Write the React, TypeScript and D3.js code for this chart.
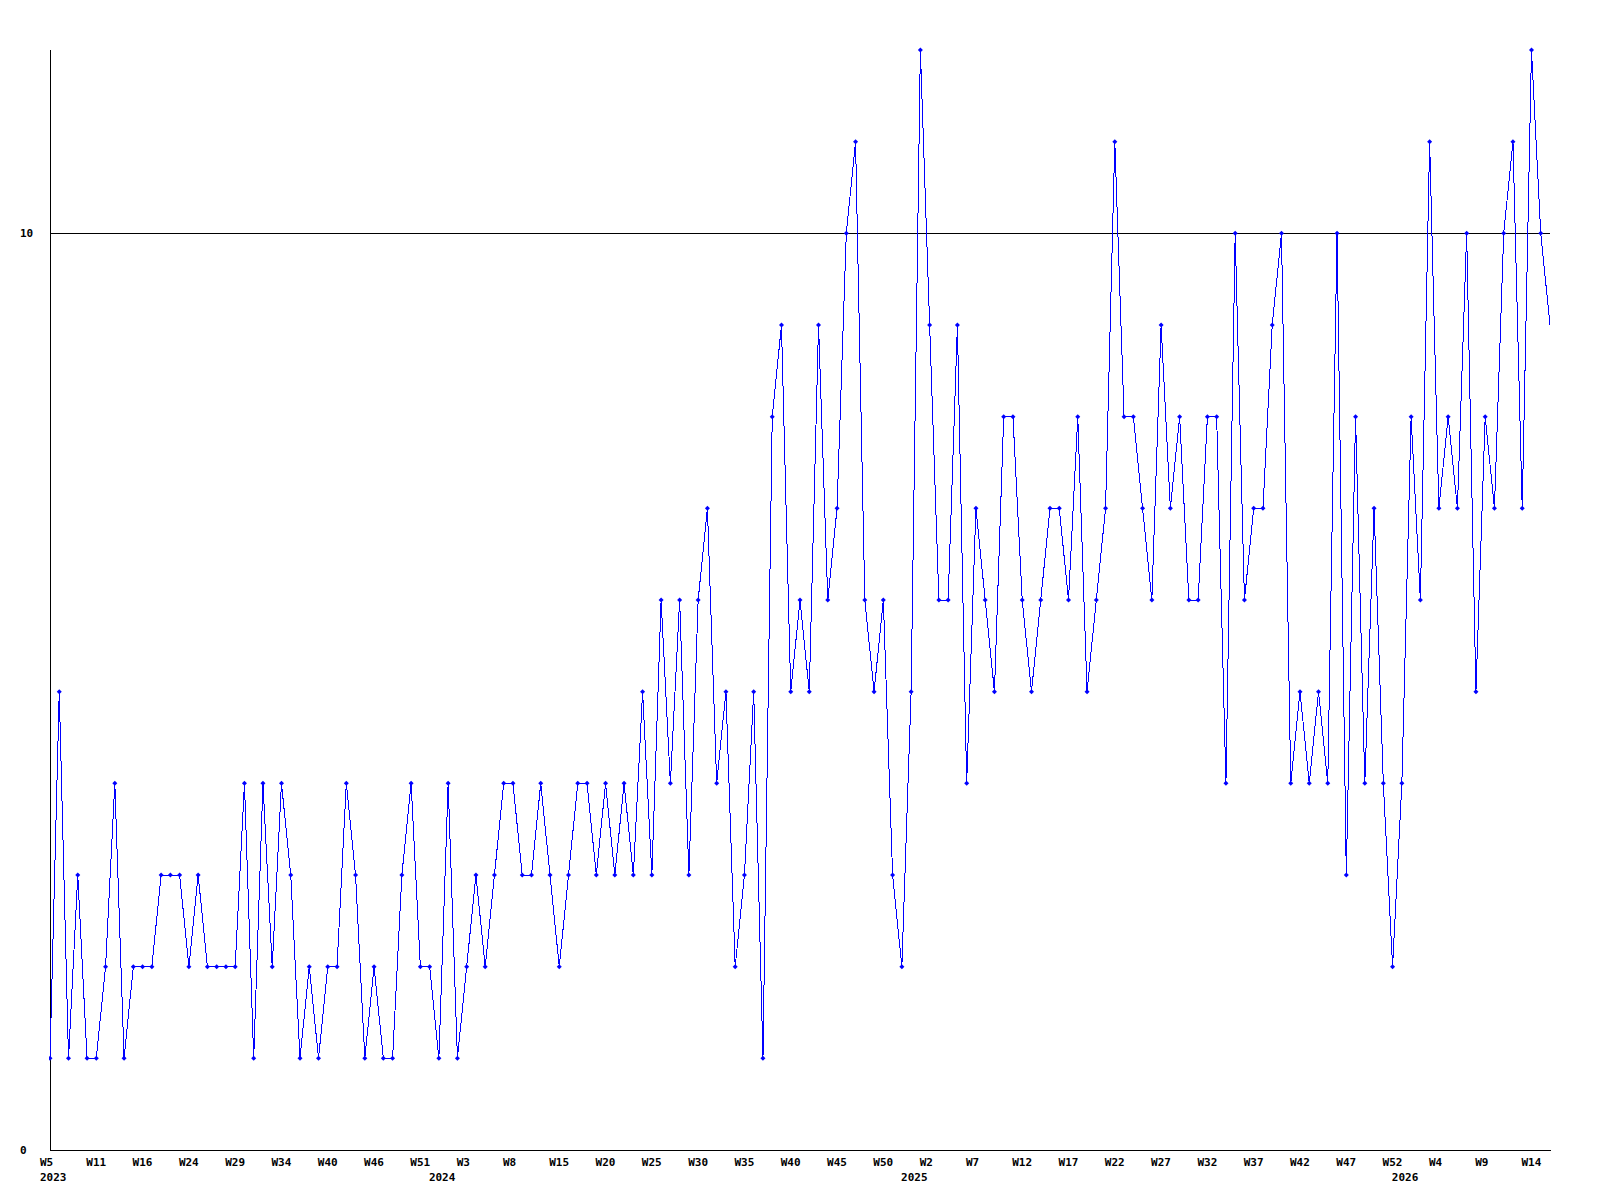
import React from "react";
import * as d3 from "d3";

const values: number[] = [
  1, 5, 1, 3, 1, 1, 2, 4, 1, 2,
  2, 2, 3, 3, 3, 2, 3, 2, 2, 2,
  2, 4, 1, 4, 2, 4, 3, 1, 2, 1,
  2, 2, 4, 3, 1, 2, 1, 1, 3, 4,
  2, 2, 1, 4, 1, 2, 3, 2, 3, 4,
  4, 3, 3, 4, 3, 2, 3, 4, 4, 3,
  4, 3, 4, 3, 5, 3, 6, 4, 6, 3,
  6, 7, 4, 5, 2, 3, 5, 1, 8, 9,
  5, 6, 5, 9, 6, 7, 10, 11, 6, 5,
  6, 3, 2, 5, 12, 9, 6, 6, 9, 4,
  7, 6, 5, 8, 8, 6, 5, 6, 7, 7,
  6, 8, 5, 6, 7, 11, 8, 8, 7, 6,
  9, 7, 8, 6, 6, 8, 8, 4, 10, 6,
  7, 7, 9, 10, 4, 5, 4, 5, 4, 10,
  3, 8, 4, 7, 4, 2, 4, 8, 6, 11,
  7, 8, 7, 10, 5, 8, 7, 10, 11, 7,
  12, 10, 9,
];

const weekLabels: string[] = [
  "W5", "W11", "W16", "W24", "W29", "W34", "W40", "W46", "W51", "W3", "W8",
  "W15", "W20", "W25", "W30", "W35", "W40", "W45", "W50", "W2", "W7", "W12",
  "W17", "W22", "W27", "W32", "W37", "W42", "W47", "W52", "W4", "W9", "W14",
];
const weekLabelStep = 5;

const yearLabels: string[] = ["2023", "2024", "2025", "2026"];
const yearIndices: number[] = [0, 42, 93, 146];

const yTicks: number[] = [0, 10];
const yMax = 12;

const FONT = "'DejaVu Sans Mono', monospace";

export default function App() {
  const left = 50;
  const right = 1550;
  const top = 50;
  const bottom = 1150;

  const x = d3.scaleLinear().domain([0, values.length - 1]).range([left, right]);
  const y = d3.scaleLinear().domain([0, yMax]).range([bottom, top]);

  const line = d3
    .line<number>()
    .x((_, i) => x(i))
    .y((d) => y(d));

  const marker = (cx: number, cy: number) =>
    `M${cx},${cy - 2.5}L${cx + 2.5},${cy}L${cx},${cy + 2.5}L${cx - 2.5},${cy}Z`;

  return (
    <svg
      width={1600}
      height={1200}
      style={{ position: "absolute", left: 0, top: 0, background: "#fff" }}
    >
      <rect x={0} y={0} width={1600} height={1200} fill="#fff" />
      <defs>
        <clipPath id="plotclip">
          <rect x={left - 1} y={top - 5} width={right - left + 2} height={bottom - top + 10} />
        </clipPath>
      </defs>

      {/* reference line at 10 */}
      <line
        x1={left}
        x2={right}
        y1={y(10) + 0.5}
        y2={y(10) + 0.5}
        stroke="#000"
        strokeWidth={1}
        shapeRendering="crispEdges"
      />

      {/* axes */}
      <line x1={left + 0.5} x2={left + 0.5} y1={top} y2={bottom + 1} stroke="#000" shapeRendering="crispEdges" />
      <line x1={left} x2={right + 1} y1={bottom + 0.5} y2={bottom + 0.5} stroke="#000" shapeRendering="crispEdges" />

      {/* y labels */}
      {yTicks.map((t) => (
        <text
          key={"y" + t}
          x={20}
          y={y(t) + 4}
          fontFamily={FONT}
          fontWeight="bold"
          fontSize={11}
          fill="#000"
        >
          {String(t)}
        </text>
      ))}

      {/* x week labels */}
      {weekLabels.map((lab, k) => (
        <text
          key={"w" + k}
          x={x(k * weekLabelStep) - 10}
          y={1166}
          fontFamily={FONT}
          fontWeight="bold"
          fontSize={11}
          fill="#000"
        >
          {lab}
        </text>
      ))}

      {/* year labels */}
      {yearLabels.map((lab, k) => (
        <text
          key={"yr" + k}
          x={x(yearIndices[k]) - 10}
          y={1181}
          fontFamily={FONT}
          fontWeight="bold"
          fontSize={11}
          fill="#000"
        >
          {lab}
        </text>
      ))}

      <g clipPath="url(#plotclip)">
        <path
          d={line(values) || ""}
          fill="none"
          stroke="#0000ff"
          strokeWidth={1}
          shapeRendering="crispEdges"
        />
        {values.slice(0, values.length - 1).map((v, i) => (
          <path key={"m" + i} d={marker(x(i), y(v))} fill="#0000ff" stroke="none" />
        ))}
      </g>
    </svg>
  );
}
